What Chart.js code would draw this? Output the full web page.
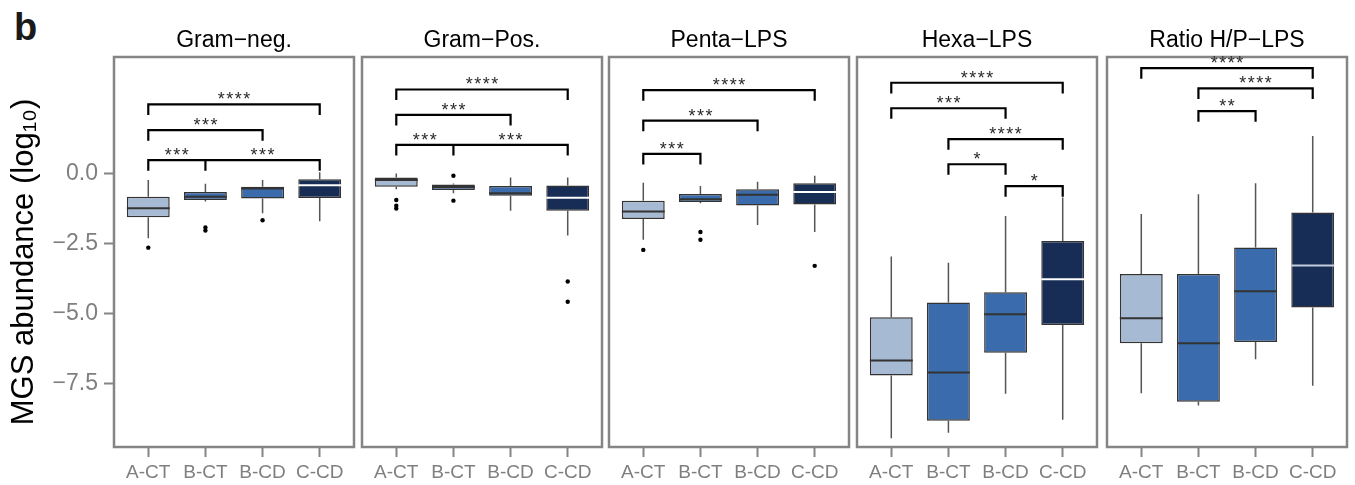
<!DOCTYPE html>
<html>
<head>
<meta charset="utf-8">
<script src="https://cdn.jsdelivr.net/npm/chart.js@4.4.1/dist/chart.umd.min.js"></script>
<style>
  body { margin: 0; background: #fff; width: 1355px; height: 485px; overflow: hidden; position: relative; font-family: "Liberation Sans", Arial, sans-serif; }
  canvas { position: absolute; top: 0; }
  #tag { position: absolute; left: 14px; top: 8px; font-weight: bold; font-size: 38px; color: #1a1a1a; line-height: 1; }
</style>
</head>
<body>
<div id="tag">b</div>
<canvas id="panel0" width="359" height="485" style="left:0px"></canvas>
<canvas id="panel1" width="250" height="485" style="left:357px"></canvas>
<canvas id="panel2" width="250" height="485" style="left:604px"></canvas>
<canvas id="panel3" width="250" height="485" style="left:852px"></canvas>
<canvas id="panel4" width="250" height="485" style="left:1102px"></canvas>
<script>
var categories = ["A-CT", "B-CT", "B-CD", "C-CD"];
var panelTitles = ["Gram\u2212neg.", "Gram\u2212Pos.", "Penta\u2212LPS", "Hexa\u2212LPS", "Ratio H/P\u2212LPS"];
var yTicks = [0, -2.5, -5, -7.5];
var yTitle = "MGS abundance (log\u2081\u2080)";

// box stats per panel: lower whisker, q1, median, q3, upper whisker, outliers
var gramNegLower = [-2.31, -1.00, -1.42, -1.71];
var gramNegQ1 = [-1.56, -0.95, -0.89, -0.88];
var gramNegMedian = [-1.24, -0.83, -0.54, -0.42];
var gramNegQ3 = [-0.83, -0.66, -0.47, -0.21];
var gramNegUpper = [-0.23, -0.37, -0.23, 0.04];
var gramNegOutliers = [[-2.65], [-1.93, -2.04], [-1.67], []];
var gramNegBrackets = [[1, 4, 2.47, "****"], [1, 3, 1.55, "***"], [1, 2, 0.48, "***"], [2, 4, 0.48, "***"]];

var gramPosLower = [-0.56, -0.71, -1.33, -2.22];
var gramPosQ1 = [-0.47, -0.59, -0.80, -1.33];
var gramPosMedian = [-0.23, -0.48, -0.71, -0.87];
var gramPosQ3 = [-0.14, -0.39, -0.45, -0.43];
var gramPosUpper = [0.0, -0.36, -0.14, -0.14];
var gramPosOutliers = [[-0.95, -1.15, -1.25], [-0.08, -0.97], [], [-3.86, -4.58]];
var gramPosBrackets = [[1, 4, 3.0, "****"], [1, 3, 2.09, "***"], [1, 2, 1.02, "***"], [2, 4, 1.02, "***"]];

var pentaLower = [-2.37, -1.06, -1.84, -2.09];
var pentaQ1 = [-1.63, -1.02, -1.14, -1.11];
var pentaMedian = [-1.36, -0.92, -0.76, -0.66];
var pentaQ3 = [-0.97, -0.73, -0.56, -0.35];
var pentaUpper = [-0.33, -0.45, -0.30, -0.08];
var pentaOutliers = [[-2.73], [-2.09, -2.37], [], [-3.30]];
var pentaBrackets = [[1, 4, 2.98, "****"], [1, 3, 1.89, "***"], [1, 2, 0.70, "***"]];

var hexaLower = [-9.46, -9.26, -7.87, -8.80];
var hexaQ1 = [-7.22, -8.83, -6.40, -5.41];
var hexaMedian = [-6.68, -7.11, -5.03, -3.78];
var hexaQ3 = [-5.14, -4.61, -4.24, -2.41];
var hexaUpper = [-2.97, -3.19, -1.52, -0.86];
var hexaOutliers = [[], [], [], []];
var hexaBrackets = [[1, 4, 3.24, "****"], [1, 3, 2.33, "***"], [2, 4, 1.23, "****"], [2, 3, 0.33, "*"], [3, 4, -0.45, "*"]];

var ratioLower = [-7.85, -8.29, -6.64, -7.58];
var ratioQ1 = [-6.06, -8.15, -6.02, -4.79];
var ratioMedian = [-5.17, -6.06, -4.21, -3.29];
var ratioQ3 = [-3.59, -3.59, -2.64, -1.39];
var ratioUpper = [-1.45, -0.74, -0.35, 1.34];
var ratioOutliers = [[], [], [], []];
var ratioBrackets = [[1, 4, 3.76, "****"], [2, 4, 3.04, "****"], [2, 3, 2.23, "**"]];

var panels = [
  { lower: gramNegLower, q1: gramNegQ1, median: gramNegMedian, q3: gramNegQ3, upper: gramNegUpper, outliers: gramNegOutliers, brackets: gramNegBrackets },
  { lower: gramPosLower, q1: gramPosQ1, median: gramPosMedian, q3: gramPosQ3, upper: gramPosUpper, outliers: gramPosOutliers, brackets: gramPosBrackets },
  { lower: pentaLower, q1: pentaQ1, median: pentaMedian, q3: pentaQ3, upper: pentaUpper, outliers: pentaOutliers, brackets: pentaBrackets },
  { lower: hexaLower, q1: hexaQ1, median: hexaMedian, q3: hexaQ3, upper: hexaUpper, outliers: hexaOutliers, brackets: hexaBrackets },
  { lower: ratioLower, q1: ratioQ1, median: ratioMedian, q3: ratioQ3, upper: ratioUpper, outliers: ratioOutliers, brackets: ratioBrackets }
];

var boxFills = ["#a7bad4", "#3a6cad", "#3a6cad", "#172d56"];
var medianColors = ["#333333", "#333333", "#333333", "#ffffff"];
var ratioMedianColors = ["#333333", "#333333", "#333333", "#c3cbdc"];
var fontFamily = "'Liberation Sans', Arial, sans-serif";
var yMin = -9.77, yMax = 4.16;
var tipLength = 0.38;
var halfBox = 0.375;

function buildDatasets(p, medColors) {
  var boxes = [], whiskers = [], medians = [], outliers = [], brackets = [];
  categories.forEach(function (c, i) {
    var x = i + 1;
    boxes.push({ x: x, y: [p.q1[i], p.q3[i]] });
    whiskers.push({ x: x, y: p.lower[i] }, { x: x, y: p.q1[i] }, { x: x, y: null });
    whiskers.push({ x: x, y: p.q3[i] }, { x: x, y: p.upper[i] }, { x: x, y: null });
    medians.push({ x: x - halfBox, y: p.median[i] }, { x: x + halfBox, y: p.median[i] }, { x: x, y: null });
    p.outliers[i].forEach(function (v) { outliers.push({ x: x, y: v }); });
  });
  p.brackets.forEach(function (b) {
    brackets.push({ x: b[0], y: b[2] - tipLength }, { x: b[0], y: b[2] }, { x: b[1], y: b[2] }, { x: b[1], y: b[2] - tipLength }, { x: b[1], y: null });
  });
  return [
    { type: "line", label: "median", data: medians, borderWidth: 2, pointRadius: 0, fill: false, order: 0,
      segment: { borderColor: function (ctx) { return medColors[Math.floor(ctx.p0DataIndex / 3)]; } } },
    { type: "scatter", label: "outliers", data: outliers, pointRadius: 2.2, pointBackgroundColor: "#000", pointBorderWidth: 0, order: 0 },
    { type: "line", label: "brackets", data: brackets, borderColor: "#000", borderWidth: 2.2, pointRadius: 0, fill: false, order: 0 },
    { type: "bar", label: "box", data: boxes, backgroundColor: boxFills, borderColor: "#333333", borderWidth: 1.5, borderSkipped: false,
      barPercentage: 0.75, categoryPercentage: 1, order: 1 },
    { type: "line", label: "whiskers", data: whiskers, borderColor: "#555555", borderWidth: 1.5, pointRadius: 0, fill: false, order: 2 }
  ];
}

var framePlugin = {
  id: "frame",
  afterDraw: function (chart) {
    var a = chart.chartArea, ctx = chart.ctx, o = chart.options.plugins.frame;
    var xs = chart.scales.x, ys = chart.scales.y;
    ctx.save();
    ctx.strokeStyle = "#858585";
    ctx.lineWidth = 2.5;
    ctx.strokeRect(a.left, a.top, a.right - a.left, a.bottom - a.top);
    ctx.fillStyle = "#000";
    ctx.font = "23px " + fontFamily;
    ctx.textAlign = "center";
    ctx.textBaseline = "middle";
    ctx.fillText(o.title, (a.left + a.right) / 2, a.top - 16);
    ctx.fillStyle = "#2a2a2a";
    ctx.font = "18px " + fontFamily;
    ctx.letterSpacing = "1.5px";
    o.brackets.forEach(function (b) {
      var cx = (xs.getPixelForValue(b[0]) + xs.getPixelForValue(b[1])) / 2;
      ctx.fillText(b[3], cx + 0.75, ys.getPixelForValue(b[2]) - 4);
    });
    ctx.letterSpacing = "0px";
    if (o.axisTitle) {
      // y axis title, centred a bit below the panel middle as in the figure
      ctx.translate(33, (a.top + a.bottom) / 2 + 10);
      ctx.rotate(-Math.PI / 2);
      ctx.fillStyle = "#000";
      ctx.font = "31px " + fontFamily;
      ctx.textBaseline = "alphabetic";
      ctx.fillText(o.axisTitle, 0, 0);
    }
    ctx.restore();
  }
};

panels.forEach(function (p, k) {
  var first = k === 0;
  new Chart(document.getElementById("panel" + k), {
    data: { datasets: buildDatasets(p, k === 4 ? ratioMedianColors : medianColors) },
    options: {
      responsive: false,
      animation: false,
      layout: { padding: { top: 57, bottom: 0, left: first ? 0 : 5, right: 5 } },
      plugins: { legend: { display: false }, tooltip: { enabled: false },
        frame: { title: panelTitles[k], brackets: p.brackets, axisTitle: first ? yTitle : null } },
      scales: {
        x: {
          type: "linear", min: 0.4, max: 4.6, offset: false,
          afterBuildTicks: function (s) { s.ticks = [1, 2, 3, 4].map(function (v) { return { value: v }; }); },
          afterFit: function (s) { s.height = 38; },
          ticks: { callback: function (v) { return categories[v - 1]; }, color: "#7f7f7f", font: { size: 19, family: fontFamily }, padding: 4, maxRotation: 0 },
          grid: { offset: false, drawOnChartArea: false, tickLength: 10, tickColor: "#858585", tickWidth: 2 },
          border: { display: false }
        },
        y: {
          type: "linear", min: yMin, max: yMax, display: first,
          afterBuildTicks: function (s) { s.ticks = yTicks.map(function (v) { return { value: v }; }); },
          afterFit: function (s) { s.width = first ? 114 : 0; },
          ticks: { callback: function (v) { return (v < 0 ? "\u2212" : "") + Math.abs(v).toFixed(1); }, color: "#7f7f7f", font: { size: 23, family: fontFamily }, padding: 6 },
          grid: { drawOnChartArea: false, tickLength: 10, tickColor: "#858585", tickWidth: 2 },
          border: { display: false }
        }
      }
    },
    plugins: [framePlugin]
  });
});
</script>
</body>
</html>
